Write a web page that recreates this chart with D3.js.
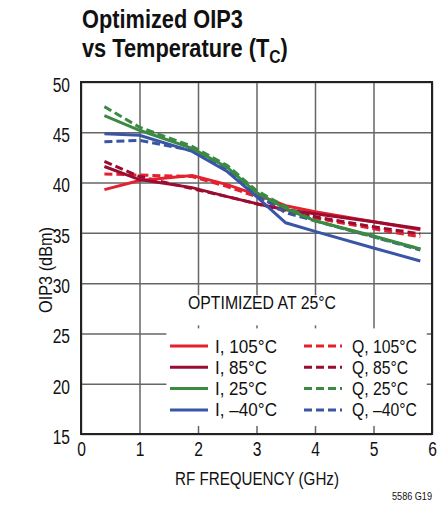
<!DOCTYPE html>
<meta charset="utf-8">
<head>
<style>
  body { margin: 0; background: #fff; }
  svg text { font-family: "Liberation Sans", Arial, sans-serif; fill: #111; }
  .grid line { stroke: #666; stroke-width: 1.5; }
  .grid path { display: none; }
</style>
</head>
<body>
<svg width="442" height="508"></svg>

<script src="https://d3js.org/d3.v7.min.js"></script>
<script>
// frequency points (GHz)
var freq = [0.4, 1, 1.9, 2.5, 3, 3.5, 4, 5, 5.8];

// OIP3 (dBm) per channel / temperature
var i105 = [39.3, 40.2, 40.7, 39.8, 38.8, 37.7, 37.1, 36.1, 35.3];
var i85  = [41.6, 40.3, 39.5, 38.6, 37.9, 37.3, 36.9, 36.1, 35.4];
var i25  = [46.65, 45.2, 43.4, 41.5, 39.0, 37.4, 36.2, 34.7, 33.4];
var iM40 = [44.85, 44.7, 43.1, 41.1, 38.6, 36.0, 35.15, 33.5, 32.2];
var q105 = [40.85, 40.75, 40.6, 39.6, 38.6, 37.3, 36.5, 35.4, 34.6];
var q85  = [42.1, 40.6, 39.4, 38.6, 37.9, 37.2, 36.6, 35.6, 34.9];
var q25  = [47.55, 45.5, 43.6, 41.7, 39.2, 37.6, 36.2, 34.6, 33.4];
var qM40 = [44.05, 44.2, 43.2, 41.3, 38.8, 37.0, 36.2, 34.6, 33.3];

var xTicks = [0, 1, 2, 3, 4, 5, 6];
var yTicks = [15, 20, 25, 30, 35, 40, 45, 50];

var series = [
  {name: "I, 105°C",  vals: i105, color: "#e3212f", dash: null},
  {name: "I, 85°C",   vals: i85,  color: "#9a0c31", dash: null},
  {name: "I, 25°C",   vals: i25,  color: "#3b8a44", dash: null},
  {name: "I, –40°C",  vals: iM40, color: "#3a55a6", dash: null},
  {name: "Q, 105°C",  vals: q105, color: "#e3212f", dash: "8,4"},
  {name: "Q, 85°C",   vals: q85,  color: "#9a0c31", dash: "8,4"},
  {name: "Q, 25°C",   vals: q25,  color: "#3b8a44", dash: "8,4"},
  {name: "Q, –40°C",  vals: qM40, color: "#3a55a6", dash: "8,4"}
];

// no condensed face installed, so squeeze the text to the reference widths
function squeeze(sel, w) {
  sel.each(function() {
    var len = this.getComputedTextLength();
    d3.select(this).attr("textLength", w || len * 0.8).attr("lengthAdjust", "spacingAndGlyphs");
  });
}

var svg = d3.select("svg"),
    margin = {top: 82, right: 10, bottom: 74, left: 81},
    width = 432 - margin.left,
    height = 434 - margin.top,
    g = svg.append("g").attr("transform", "translate(" + margin.left + "," + margin.top + ")");

var x = d3.scaleLinear().domain([0, 6]).range([0, width]),
    y = d3.scaleLinear().domain([15, 50]).range([height, 0]);

// title
var tg1 = svg.append("g"), tg2 = svg.append("g");
tg1.append("text").attr("y", 28)
    .style("font-size", "25px").style("font-weight", "bold")
    .text("Optimized OIP3");
var t2 = tg2.append("text").attr("y", 57)
    .style("font-size", "25px").style("font-weight", "bold");
t2.append("tspan").text("vs Temperature (T");
t2.append("tspan").attr("dy", 6).style("font-size", "18px").text("C");
t2.append("tspan").attr("dy", -6).text(")");
[[tg1, 161], [tg2, 206]].forEach(function(p) {
  var w = p[0].node().getBBox().width;
  p[0].attr("transform", "translate(82,0) scale(" + (p[1] / w) + ",1)");
});

// grid
g.append("g").attr("class", "grid")
    .call(d3.axisLeft(y).tickValues(yTicks).tickSize(-width).tickFormat(""));
g.append("g").attr("class", "grid")
    .attr("transform", "translate(0," + height + ")")
    .call(d3.axisBottom(x).tickValues(xTicks).tickSize(-height).tickFormat(""));

// white boxes behind note and legend
g.append("rect").attr("x", x(1.85)).attr("y", y(28.8)).attr("width", x(4.85) - x(1.85)).attr("height", y(25.8) - y(28.8)).attr("fill", "#fff");
g.append("rect").attr("x", x(1.46)).attr("y", y(25.5)).attr("width", x(5.91) - x(1.46)).attr("height", y(15.8) - y(25.5)).attr("fill", "#fff");

// data lines
var line = d3.line()
    .x(function(d, i) { return x(freq[i]); })
    .y(function(d) { return y(d); });

var order = [4, 5, 0, 1, 7, 3, 6, 2];
order.forEach(function(k) {
  var s = series[k];
  g.append("path")
      .attr("fill", "none")
      .attr("stroke", s.color)
      .attr("stroke-width", 3)
      .attr("stroke-dasharray", s.dash)
      .attr("d", line(s.vals));
});

// frame
g.append("rect").attr("width", width).attr("height", height)
    .attr("fill", "none").attr("stroke", "#222").attr("stroke-width", 2);

// tick labels
var yAxis = g.append("g").call(d3.axisLeft(y).tickValues(yTicks).tickSize(0).tickPadding(11).tickFormat(d3.format("d")));
yAxis.select(".domain").remove();
yAxis.selectAll("text").style("font-size", "19.5px").attr("dy", "0.48em");
squeeze(yAxis.selectAll("text"));
var xAxis = g.append("g").attr("transform", "translate(0," + height + ")")
    .call(d3.axisBottom(x).tickValues(xTicks).tickSize(0).tickPadding(8).tickFormat(d3.format("d")));
xAxis.select(".domain").remove();
xAxis.selectAll("text").style("font-size", "19.5px");
squeeze(xAxis.selectAll("text"));

// axis titles
squeeze(svg.append("text").attr("x", 257).attr("y", 485).attr("text-anchor", "middle")
    .style("font-size", "18px").text("RF FREQUENCY (GHz)"), 164);
squeeze(svg.append("text").attr("transform", "translate(52,270) rotate(-90)").attr("text-anchor", "middle")
    .style("font-size", "18px").text("OIP3 (dBm)"), 86);
squeeze(svg.append("text").attr("x", 432).attr("y", 500).attr("text-anchor", "end")
    .style("font-size", "10px").text("5586 G19"), 40);

// note
squeeze(svg.append("text").attr("x", 188).attr("y", 309).style("font-size", "18px").text("OPTIMIZED AT 25°C"), 148);

// legend
var legW = [62, 52, 52, 62, 65, 56, 56, 65];
series.forEach(function(s, i) {
  var col = Math.floor(i / 4), row = i % 4;
  var lx = col ? 304 : 170, ly = 346 + row * 21.3;
  svg.append("line").attr("x1", lx).attr("x2", lx + 38).attr("y1", ly).attr("y2", ly)
      .attr("stroke", s.color).attr("stroke-width", 3).attr("stroke-dasharray", s.dash);
  squeeze(svg.append("text").attr("x", lx + (col ? 48 : 45)).attr("y", ly + 6.5)
      .style("font-size", "17.5px").text(s.name), legW[i]);
});
</script>
</body>
